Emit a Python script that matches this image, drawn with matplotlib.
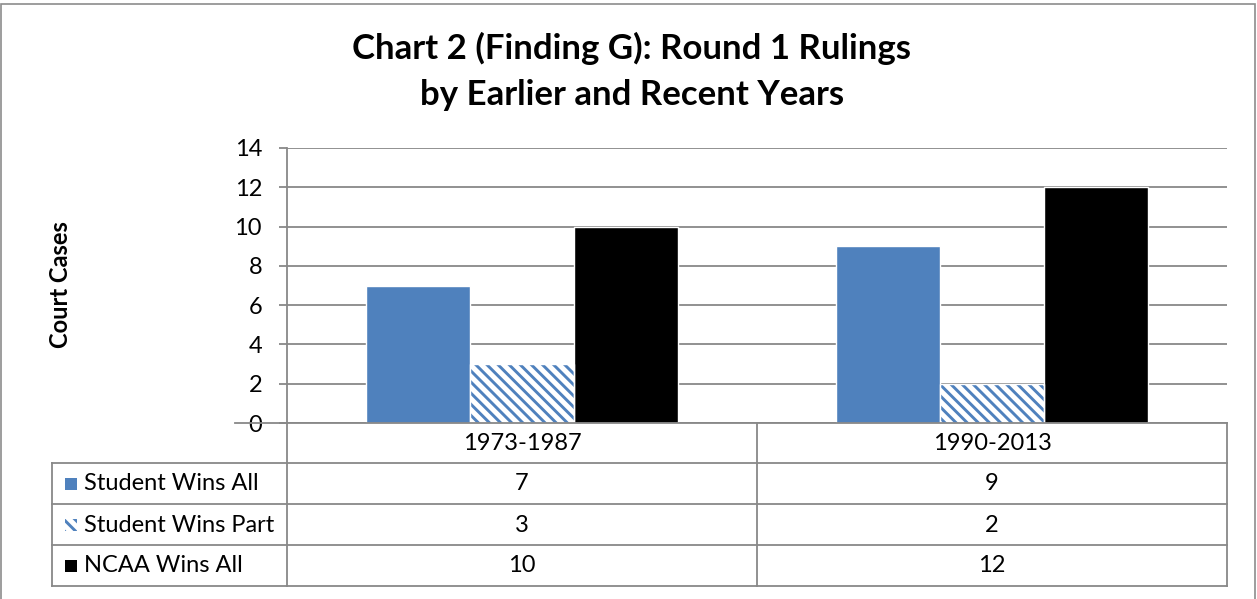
import matplotlib.pyplot as plt
from matplotlib.patches import Rectangle

# data
periods = ['1973-1987', '1990-2013']
series = ['Student Wins All', 'Student Wins Part', 'NCAA Wins All']
student_all = [7, 9]
student_part = [3, 2]
ncaa_all = [10, 12]

blue = '#4f81bd'
grid_c = '#888888'
plt.rcParams['font.family'] = ['Lato', 'DejaVu Sans']
plt.rcParams['hatch.linewidth'] = 2.1

W, H = 1257, 599
fig = plt.figure(figsize=(W / 100, H / 100), dpi=100)

def px_rect(x0, y0, x1, y1):
    # pixel box (top-left origin) -> figure fraction
    return [x0 / W, 1 - y1 / H, (x1 - x0) / W, (y1 - y0) / H]

# outer chart border
fig.patches.append(Rectangle((1 / W, -0.05), 1254 / W, 1.05 - 4 / H, transform=fig.transFigure,
                             fill=False, edgecolor='#8c8c8c', lw=1.2))

fig.text(632 / W, 1 - 48 / H, 'Chart 2 (Finding G): Round 1 Rulings', ha='center', va='center',
         fontsize=25, fontweight='bold')
fig.text(632 / W, 1 - 95 / H, 'by Earlier and Recent Years', ha='center', va='center',
         fontsize=25, fontweight='bold')

ax = fig.add_axes(px_rect(287, 148, 1227, 423))
x = [0, 1]
bw = 0.221
ax.bar([i - bw for i in x], student_all, bw, color=blue, edgecolor='white', lw=1, zorder=3)
# hatched bars: hatch drawn in blue, then white outline on top
ax.bar(x, student_part, bw, color='white', hatch='\\\\\\', edgecolor=blue, lw=0, zorder=3)
ax.bar(x, student_part, bw, fill=False, edgecolor='white', lw=1, zorder=4)
ax.bar([i + bw for i in x], ncaa_all, bw, color='black', edgecolor='white', lw=1, zorder=3)
ax.set_xlim(-0.5, 1.5)
ax.set_ylim(0, 14)
ax.set_yticks(range(0, 15, 2))
ax.set_xticks([])
ax.grid(axis='y', color=grid_c, lw=1.3, zorder=0)
for s in ['top', 'right', 'bottom']:
    ax.spines[s].set_visible(False)
ax.spines['left'].set_color(grid_c)
ax.spines['left'].set_linewidth(1.3)
ax.tick_params(axis='y', colors=grid_c, length=6, width=1.3, labelsize=17, labelcolor='black', pad=12)
fig.text(60 / W, 1 - 285 / H, 'Court Cases', rotation=90, ha='center', va='center',
         fontsize=17, fontweight='bold')

# data table
tab = fig.add_axes(px_rect(52, 423, 1227, 586))
tab.set_xlim(52, 1227)
tab.set_ylim(586, 423)
tab.axis('off')
lc = dict(color=grid_c, lw=1.3, clip_on=False)
tab.plot([235, 1227], [423, 423], **lc)
for xv in [287, 757, 1227]:
    tab.plot([xv, xv], [423, 586], **lc)
tab.plot([52, 52], [463, 586], **lc)
for yv in [463, 504, 545, 586]:
    tab.plot([52, 1227], [yv, yv], **lc)
for i, p in enumerate(periods):
    tab.text(522 + 470 * i, 443, p, ha='center', va='center', fontsize=17)
rows = [student_all, student_part, ncaa_all]
keys = [dict(facecolor=blue, edgecolor='none'),
        dict(facecolor='white', hatch='\\\\\\', edgecolor=blue, lw=0),
        dict(facecolor='black', edgecolor='none')]
for r, (name, vals, kw) in enumerate(zip(series, rows, keys)):
    yc = 484 + 41 * r
    tab.add_patch(Rectangle((65, yc - 6), 12, 12, **kw))
    tab.text(84, yc, name, ha='left', va='center', fontsize=17)
    for i, v in enumerate(vals):
        tab.text(522 + 470 * i, yc, str(v), ha='center', va='center', fontsize=17)

fig.savefig('out.png', dpi=100)
